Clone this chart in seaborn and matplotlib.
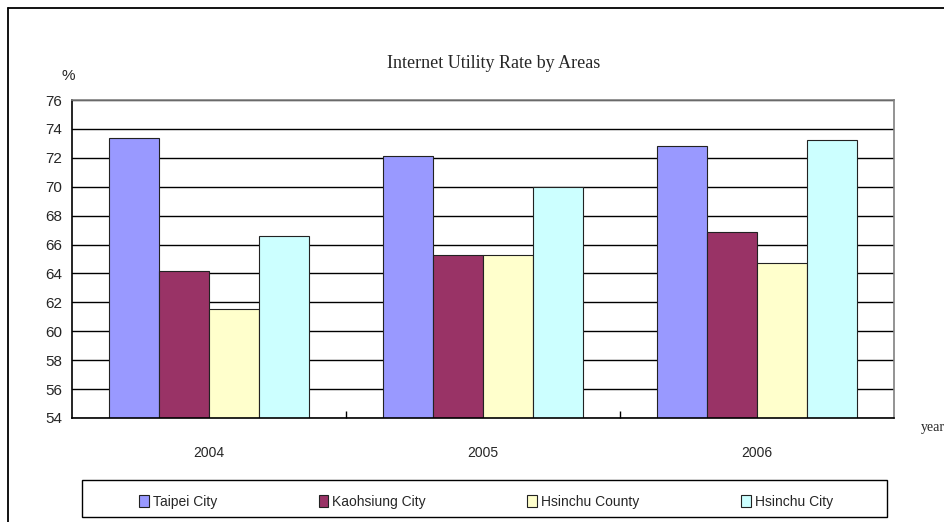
import seaborn as sns
import matplotlib.pyplot as plt
import pandas as pd
from matplotlib.patches import Rectangle
from matplotlib.lines import Line2D

# values
years = ['2004', '2005', '2006']
areas = ['Taipei City', 'Kaohsiung City', 'Hsinchu County', 'Hsinchu City']
taipei = [73.35, 72.15, 72.8]
kaohsiung = [64.2, 65.3, 66.9]
hsinchu_county = [61.55, 65.3, 64.75]
hsinchu_city = [66.6, 70.0, 73.2]
area_colors = ['#9999FF', '#993366', '#FFFFCC', '#CCFFFF']

rows = []
for area, vals in zip(areas, [taipei, kaohsiung, hsinchu_county, hsinchu_city]):
    for y, v in zip(years, vals):
        rows.append({'year': y, 'area': area, 'rate': v})
df = pd.DataFrame(rows)

sns.set_style('white')
plt.rcParams['font.family'] = ['Liberation Sans', 'DejaVu Sans']

fig = plt.figure(figsize=(9.45, 5.22), dpi=100)
ax = fig.add_axes([72 / 945, 104 / 522, 822 / 945, 318 / 522])

sns.barplot(data=df, x='year', y='rate', hue='area', order=years,
            hue_order=areas, palette=area_colors, width=0.73,
            edgecolor='#222222', linewidth=0.8, saturation=1, ax=ax)

ax.set_ylim(54, 76)
ax.set_xlim(-0.5, 2.5)
ax.set_yticks(range(54, 77, 2))
ax.yaxis.grid(True, color='black', linewidth=1)
ax.set_axisbelow(True)
ax.set_xlabel('')
ax.set_ylabel('')
ax.tick_params(axis='y', length=0, pad=7, labelsize=11)
ax.tick_params(axis='x', which='major', length=0, pad=20.5, labelsize=10)
ax.set_xticks([0.5, 1.5], minor=True)
ax.tick_params(axis='x', which='minor', bottom=True, direction='in',
               length=5, width=1, color='black')
for side in ['left', 'bottom']:
    ax.spines[side].set_color('black')
    ax.spines[side].set_linewidth(1.2)
for side in ['top', 'right']:
    ax.spines[side].set_color('#808080')
    ax.spines[side].set_linewidth(1.2)

handles, labels = ax.get_legend_handles_labels()
ax.get_legend().remove()
fig.legend(handles, labels, loc='center', bbox_to_anchor=(486 / 945, 20 / 522),
           ncol=4, frameon=False, fontsize=10, handlelength=0.7,
           handleheight=1.0, handletextpad=0.3, columnspacing=7.3)

# legend box and outer chart border
fig.add_artist(Rectangle((82 / 945, 5 / 522), 805 / 945, 37 / 522,
                         transform=fig.transFigure, fill=False,
                         edgecolor='black', linewidth=1))
fig.add_artist(Line2D([8 / 945, 8 / 945], [0, 514 / 522], color='black', linewidth=1.3))
fig.add_artist(Line2D([8 / 945, 1], [514 / 522, 514 / 522], color='black', linewidth=1.3))

fig.text(494 / 945, 458 / 522, 'Internet Utility Rate by Areas', ha='center',
         va='center', fontsize=13, family='Liberation Serif')
fig.text(68 / 945, 446 / 522, '%', ha='center', va='center', fontsize=11)
fig.text(921 / 945, 95 / 522, 'year', ha='left', va='center', fontsize=10,
         family='Liberation Serif')

fig.savefig('out.png', dpi=100)
